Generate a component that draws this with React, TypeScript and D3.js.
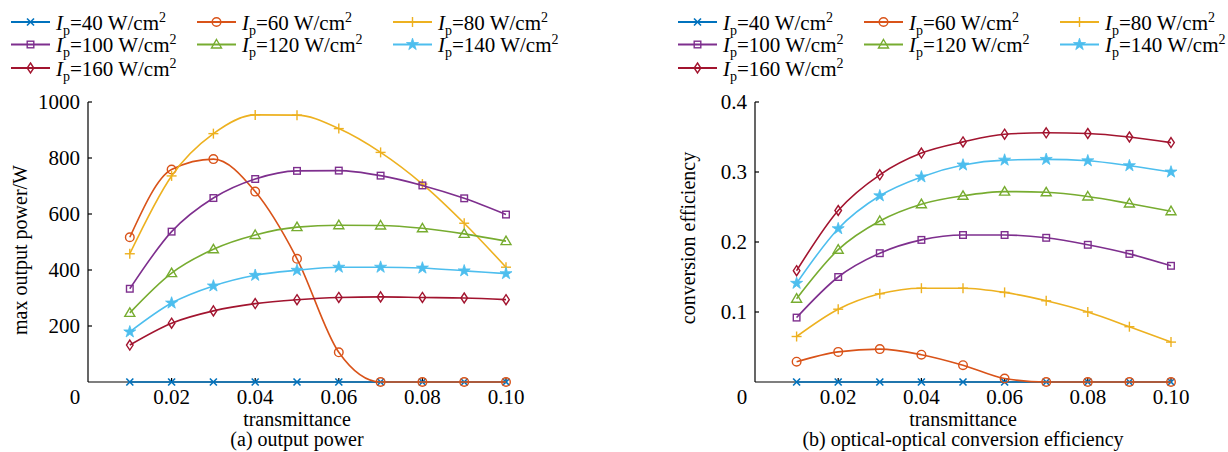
import React from "react";
import * as d3 from "d3";

const transmittance = [0.01, 0.02, 0.03, 0.04, 0.05, 0.06, 0.07, 0.08, 0.09, 0.1];
const seriesNames = ["40", "60", "80", "100", "120", "140", "160"];

const powerP40 = [0, 0, 0, 0, 0, 0, 0, 0, 0, 0];
const powerP60 = [517, 759, 796, 680, 440, 106, 0, 0, 0, 0];
const powerP80 = [458, 736, 887, 954, 953, 905, 820, 707, 567, 410];
const powerP100 = [333, 537, 657, 725, 754, 755, 737, 702, 656, 598];
const powerP120 = [247, 389, 474, 525, 553, 560, 559, 549, 529, 503];
const powerP140 = [179, 282, 343, 381, 399, 410, 410, 407, 397, 387];
const powerP160 = [132, 210, 254, 280, 294, 302, 304, 302, 300, 294];

const effP40 = [0, 0, 0, 0, 0, 0, 0, 0, 0, 0];
const effP60 = [0.029, 0.043, 0.047, 0.039, 0.024, 0.005, 0, 0, 0, 0];
const effP80 = [0.065, 0.104, 0.126, 0.134, 0.134, 0.128, 0.116, 0.1, 0.079, 0.057];
const effP100 = [0.092, 0.15, 0.184, 0.203, 0.21, 0.21, 0.206, 0.196, 0.183, 0.166];
const effP120 = [0.119, 0.189, 0.23, 0.254, 0.266, 0.272, 0.271, 0.265, 0.255, 0.244];
const effP140 = [0.141, 0.219, 0.266, 0.293, 0.31, 0.317, 0.318, 0.316, 0.309, 0.3];
const effP160 = [0.159, 0.245, 0.296, 0.327, 0.343, 0.354, 0.356, 0.355, 0.35, 0.342];

const xTicks = [0.02, 0.04, 0.06, 0.08, 0.1];
const xTickLabels = ["0.02", "0.04", "0.06", "0.08", "0.10"];
const powerTicks = [200, 400, 600, 800, 1000];
const effTicks = [0.1, 0.2, 0.3, 0.4];
const effTickLabels = ["0.1", "0.2", "0.3", "0.4"];

const colors = ["#0072BD", "#D95319", "#EDB120", "#7E2F8E", "#77AC30", "#4DBEEE", "#A2142F"];
const markers = ["x", "circle", "plus", "square", "triangle", "star", "diamond"];

const FONT = "'Liberation Serif', 'Times New Roman', serif";
const FS = 21;

function Marker({ type, x, y, color }: { type: string; x: number; y: number; color: string }) {
  const sw = 1.4;
  switch (type) {
    case "x":
      return (
        <g stroke={color} strokeWidth={1.6}>
          <line x1={x - 3.5} y1={y - 3.5} x2={x + 3.5} y2={y + 3.5} />
          <line x1={x - 3.5} y1={y + 3.5} x2={x + 3.5} y2={y - 3.5} />
        </g>
      );
    case "circle":
      return <circle cx={x} cy={y} r={4.3} fill="none" stroke={color} strokeWidth={sw} />;
    case "plus":
      return (
        <g stroke={color} strokeWidth={sw}>
          <line x1={x - 5} y1={y} x2={x + 5} y2={y} />
          <line x1={x} y1={y - 5} x2={x} y2={y + 5} />
        </g>
      );
    case "square":
      return <rect x={x - 3.3} y={y - 3.3} width={6.6} height={6.6} fill="none" stroke={color} strokeWidth={sw} />;
    case "triangle":
      return (
        <path
          d={`M${x},${y - 5} L${x + 5},${y + 3.5} L${x - 5},${y + 3.5} Z`}
          fill="none"
          stroke={color}
          strokeWidth={sw}
        />
      );
    case "star": {
      const p = d3.symbol().type(d3.symbolStar).size(45)();
      return <path d={p || ""} transform={`translate(${x},${y})`} fill={color} stroke={color} strokeWidth={0.8} />;
    }
    case "diamond":
      return (
        <path
          d={`M${x},${y - 5} L${x + 3.3},${y} L${x},${y + 5} L${x - 3.3},${y} Z`}
          fill="none"
          stroke={color}
          strokeWidth={sw}
        />
      );
    default:
      return null;
  }
}

function LegendLabel({ x, y, name }: { x: number; y: number; name: string }) {
  return (
    <text x={x} y={y} fontFamily={FONT} fontSize={FS} fill="#000">
      <tspan fontStyle="italic">I</tspan>
      <tspan fontSize={14} dy={5}>p</tspan>
      <tspan dy={-5}>{`=${name} W/cm`}</tspan>
      <tspan fontSize={14} dy={-8}>2</tspan>
    </text>
  );
}

function Legend({ dx }: { dx: number }) {
  const colStarts = [11, 197, 393];
  const rows = [22, 44.5, 68];
  return (
    <g>
      {seriesNames.map((n, i) => {
        const c = i % 3;
        const r = Math.floor(i / 3);
        const x0 = colStarts[c] + dx;
        const y = rows[r];
        return (
          <g key={n}>
            <line x1={x0} x2={x0 + 39} y1={y} y2={y} stroke={colors[i]} strokeWidth={1.8} />
            <Marker type={markers[i]} x={x0 + 19.5} y={y} color={colors[i]} />
            <LegendLabel x={x0 + 45} y={y + 7.5} name={n} />
          </g>
        );
      })}
    </g>
  );
}

type PanelProps = {
  x0: number;
  x1: number;
  yMax: number;
  series: number[][];
  yTicks: number[];
  yTickLabels: string[];
  yLabel: string;
  yLabelX: number;
  yLabelY: number;
  caption: string;
};

function Panel(p: PanelProps) {
  const xs = d3.scaleLinear().domain([0, 0.1]).range([p.x0, p.x1]);
  const ys = d3.scaleLinear().domain([0, p.yMax]).range([382, 102]);
  const line = d3
    .line<number>()
    .x((_, i) => xs(transmittance[i]))
    .y((d) => ys(d))
    .curve(d3.curveMonotoneX);
  const cx = (p.x0 + p.x1) / 2;
  return (
    <g>
      <line x1={p.x0} x2={p.x0} y1={ys(p.yMax)} y2={ys(0)} stroke="#000" strokeWidth={1.2} />
      <line x1={p.x0} x2={p.x1} y1={ys(0)} y2={ys(0)} stroke="#000" strokeWidth={1.2} />
      {p.yTicks.map((t, i) => (
        <g key={"y" + t}>
          <line x1={p.x0} x2={p.x0 + 4} y1={ys(t)} y2={ys(t)} stroke="#000" strokeWidth={1.2} />
          <text x={p.x0 - 8} y={ys(t) + 7} textAnchor="end" fontFamily={FONT} fontSize={FS}>
            {p.yTickLabels[i]}
          </text>
        </g>
      ))}
      {xTicks.map((t, i) => (
        <g key={"x" + t}>
          <line x1={xs(t)} x2={xs(t)} y1={ys(0)} y2={ys(0) - 4} stroke="#000" strokeWidth={1.2} />
          <text x={xs(t)} y={404} textAnchor="middle" fontFamily={FONT} fontSize={FS}>
            {xTickLabels[i]}
          </text>
        </g>
      ))}
      <text x={p.x0 - 13} y={404} textAnchor="middle" fontFamily={FONT} fontSize={FS}>
        0
      </text>
      <text
        transform={`translate(${p.yLabelX},${p.yLabelY}) rotate(-90)`}
        textAnchor="middle"
        dominantBaseline="central"
        fontFamily={FONT}
        fontSize={20}
      >
        {p.yLabel}
      </text>
      <text x={cx} y={426} textAnchor="middle" fontFamily={FONT} fontSize={20}>
        transmittance
      </text>
      <text x={cx} y={446} textAnchor="middle" fontFamily={FONT} fontSize={20}>
        {p.caption}
      </text>
      {p.series.map((vals, si) => (
        <g key={"s" + si}>
          <path d={line(vals) || ""} fill="none" stroke={colors[si]} strokeWidth={1.6} />
          {vals.map((v, i) => (
            <Marker key={i} type={markers[si]} x={xs(transmittance[i])} y={ys(v)} color={colors[si]} />
          ))}
        </g>
      ))}
    </g>
  );
}

export default function App() {
  return (
    <svg
      width={1228}
      height={452}
      style={{ position: "absolute", left: 0, top: 0, background: "#fff" }}
    >
      <Legend dx={0} />
      <Legend dx={667} />
      <Panel
        x0={88}
        x1={506}
        yMax={1000}
        series={[powerP40, powerP60, powerP80, powerP100, powerP120, powerP140, powerP160]}
        yTicks={powerTicks}
        yTickLabels={powerTicks.map(String)}
        yLabel="max output power/W"
        yLabelX={20}
        yLabelY={250}
        caption="(a) output power"
      />
      <Panel
        x0={755}
        x1={1171}
        yMax={0.4}
        series={[effP40, effP60, effP80, effP100, effP120, effP140, effP160]}
        yTicks={effTicks}
        yTickLabels={effTickLabels}
        yLabel="conversion efficiency"
        yLabelX={688}
        yLabelY={238}
        caption="(b) optical-optical conversion efficiency"
      />
    </svg>
  );
}
